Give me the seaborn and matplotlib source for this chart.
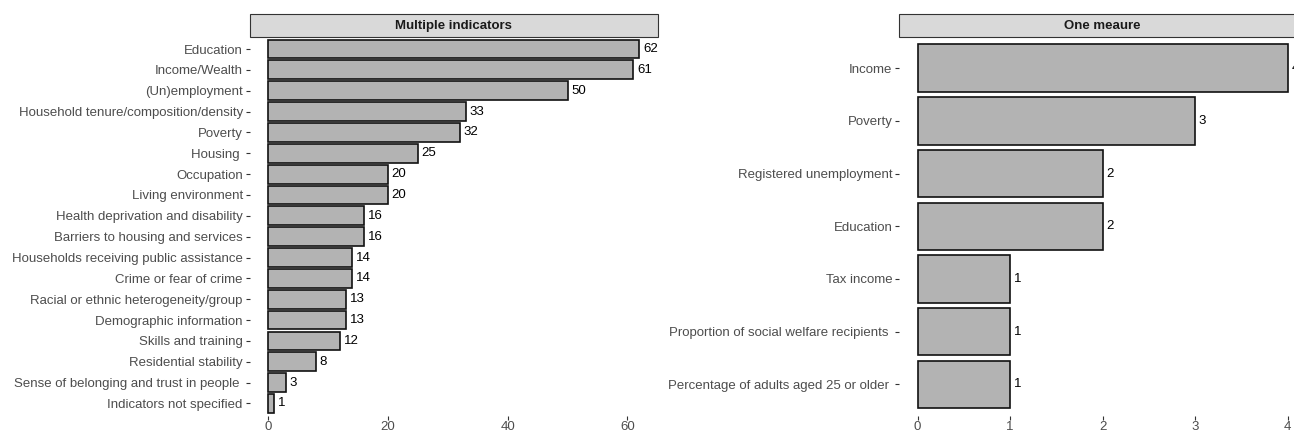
import matplotlib
matplotlib.use("Agg")
import matplotlib.pyplot as plt
import seaborn as sns
import pandas as pd
from matplotlib.patches import Rectangle

multi_labels = ["Education", "Income/Wealth", "(Un)employment",
                "Household tenure/composition/density", "Poverty", "Housing ",
                "Occupation", "Living environment", "Health deprivation and disability",
                "Barriers to housing and services", "Households receiving public assistance",
                "Crime or fear of crime", "Racial or ethnic heterogeneity/group",
                "Demographic information", "Skills and training", "Residential stability",
                "Sense of belonging and trust in people ", "Indicators not specified"]
multi_values = [62, 61, 50, 33, 32, 25, 20, 20, 16, 16, 14, 14, 13, 13, 12, 8, 3, 1]

one_labels = ["Income", "Poverty", "Registered unemployment", "Education", "Tax income",
              "Proportion of social welfare recipients ", "Percentage of adults aged 25 or older "]
one_values = [4, 3, 2, 2, 1, 1, 1]

titles = ["Multiple indicators", "One meaure"]
multi_ticks = [0, 20, 40, 60]
one_ticks = [0, 1, 2, 3, 4]

sns.set_style("white")
plt.rcParams["font.family"] = ["Liberation Sans", "DejaVu Sans"]

W, H = 1294, 432
fig = plt.figure(figsize=(W / 100, H / 100), dpi=100)

def panel(x0, x1, labels, values, xlim, ticks, title):
    y_bot, y_top = 416.0, 36.5
    ax = fig.add_axes([x0 / W, (H - y_bot) / H, (x1 - x0) / W, (y_bot - y_top) / H])
    df = pd.DataFrame({"label": labels, "value": values})
    sns.barplot(data=df, x="value", y="label", orient="h", color="#B3B3B3",
                edgecolor="#111111", linewidth=1.2, width=0.9, saturation=1, ax=ax)
    n = len(labels)
    ax.set_xlim(*xlim)
    ax.set_ylim(n - 1 + 0.6, -0.6)
    ax.set_xticks(ticks)
    ax.set_xticklabels([str(t) for t in ticks])
    ax.set_xlabel("")
    ax.set_ylabel("")
    for s in ax.spines.values():
        s.set_visible(False)
    ax.tick_params(axis="both", which="both", length=2.8, width=0.8, color="#333333",
                   labelcolor="#4D4D4D", labelsize=9.5, bottom=True, left=True)
    ax.tick_params(axis="x", pad=1.0)
    ax.tick_params(axis="y", pad=2)
    for i, v in enumerate(values):
        t = ax.annotate(str(v), xy=(v, i), xytext=(2.8, 0), textcoords="offset points",
                        ha="left", va="center", fontsize=9.5, color="black",
                        annotation_clip=False)
        t.set_clip_on(True)
        t.set_clip_box(ax.bbox)
    strip_h = 22.0 / (y_bot - y_top)
    rect = Rectangle((0, 1.0), 1, strip_h, transform=ax.transAxes, facecolor="#D9D9D9",
                     edgecolor="#333333", linewidth=0.8, clip_on=False)
    ax.add_patch(rect)
    ax.text(0.5, 1.0 + strip_h / 2, title, transform=ax.transAxes, ha="center", va="center",
            fontsize=9.5, fontweight="bold", color="#1A1A1A", clip_on=False)
    return ax

panel(249.5, 658, multi_labels, multi_values, (-3.1, 65.1), multi_ticks, titles[0])
panel(899, 1306, one_labels, one_values, (-0.2, 4.2), one_ticks, titles[1])

fig.savefig("out.png", dpi=100)
